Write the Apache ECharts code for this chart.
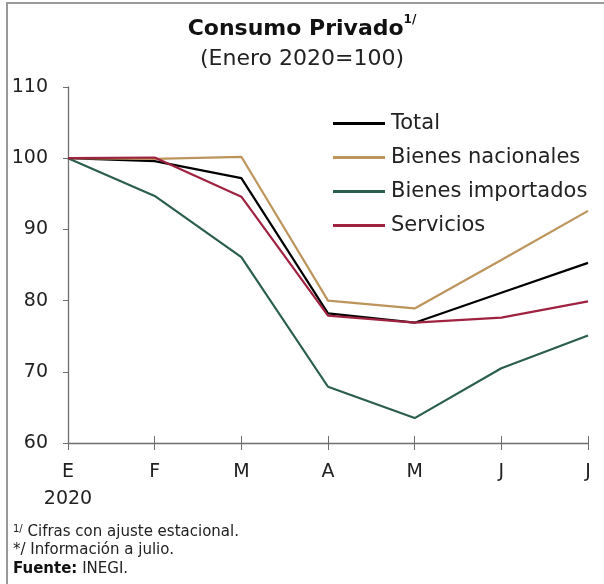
<!DOCTYPE html>
<html>
<head>
<meta charset="utf-8">
<title>Consumo Privado</title>
<script src="https://cdn.jsdelivr.net/npm/echarts@6/dist/echarts.min.js"></script>
<style>
body { margin: 0; width: 604px; height: 584px; background: #fff; }
#frame {
	position: absolute; left: 6px; top: 2px; width: 598px; height: 582px;
	border-left: 2px solid #9a9a9a; border-top: 2px solid #9a9a9a;
}
#chart { position: absolute; left: 0; top: 0; width: 604px; height: 584px; }
</style>
</head>
<body>
<div id="frame"></div>
<div id="chart"></div>
<script type="text/javascript">
// meses
var meses = ['E', 'F', 'M', 'A', 'M', 'J', 'J'];
// series (Enero 2020 = 100)
var total = [100, 99.6, 97.2, 78.2, 76.9, 81.1, 85.3];
var nacionales = [100, 99.9, 100.2, 80.0, 78.9, 85.7, 92.6];
var importados = [100, 94.7, 86.1, 67.9, 63.5, 70.5, 75.1];
var servicios = [100, 100.1, 94.6, 77.9, 76.9, 77.6, 79.9];

var fuente = '"DejaVu Sans", "Noto Sans", sans-serif';
var axisColor = '#6e6e6e';

var chart = echarts.init(document.getElementById('chart'));

function linea(nombre, datos, color) {
	return {
		name: nombre,
		type: 'line',
		data: datos,
		symbol: 'none',
		lineStyle: { color: color, width: 2.2 },
		itemStyle: { color: color },
		z: 3
	};
}

var option = {
	animation: false,
	textStyle: { fontFamily: fuente },
	title: {
		text: '{b|Consumo Privado}{s|1/}\n{n|(Enero 2020=100)}',
		left: 'center',
		top: 9,
		textStyle: {
			rich: {
				b: { fontFamily: fuente, fontSize: 22, fontWeight: 'bold', color: '#111', lineHeight: 30 },
				s: { fontFamily: fuente, fontSize: 12, fontWeight: 'bold', color: '#111', verticalAlign: 'top', lineHeight: 30, padding: [0, 0, 12, 0] },
				n: { fontFamily: fuente, fontSize: 22, fontWeight: 'normal', color: '#222', lineHeight: 30 }
			}
		}
	},
	legend: {
		orient: 'vertical',
		left: 333,
		top: 113,
		padding: 0,
		itemWidth: 52,
		itemHeight: 14,
		itemGap: 13,
		icon: 'path://M0,6 L52,6 L52,9 L0,9 Z',
		textStyle: { fontFamily: fuente, fontSize: 21, color: '#222', padding: [0, 0, 0, 1] },
		data: ['Total', 'Bienes nacionales', 'Bienes importados', 'Servicios']
	},
	grid: { left: 68, right: 16, top: 87, bottom: 141 },
	xAxis: [{
		type: 'category',
		data: meses,
		boundaryGap: false,
		axisLine: { lineStyle: { color: axisColor, width: 1.3 } },
		axisTick: { length: 7, lineStyle: { color: axisColor } },
		axisLabel: {
			color: '#222', fontSize: 19, margin: 16, lineHeight: 27,
			formatter: function (v, i) { return i === 0 ? v + '\n2020' : v; }
		},
		splitLine: { show: false }
	}, {
		type: 'category',
		data: meses,
		boundaryGap: false,
		position: 'bottom',
		axisLine: { show: false },
		axisTick: { inside: true, length: 7, lineStyle: { color: axisColor } },
		axisLabel: { show: false }
	}],
	yAxis: [{
		type: 'value',
		min: 60,
		max: 110,
		interval: 10,
		axisLine: { show: true, lineStyle: { color: axisColor, width: 1.3 } },
		axisTick: { show: true, length: 5, lineStyle: { color: axisColor } },
		axisLabel: { color: '#222', fontSize: 19, margin: 20 },
		splitLine: { show: false }
	}],
	series: [
		linea('Total', total, '#000000'),
		linea('Bienes nacionales', nacionales, '#BC955C'),
		linea('Bienes importados', importados, '#2B5E4C'),
		linea('Servicios', servicios, '#9F2241')
	],
	graphic: [{
		type: 'text', left: 13, top: 524,
		style: {
			text: '{s|1/} Cifras con ajuste estacional.',
			rich: { s: { fontSize: 10, verticalAlign: 'top', padding: [0, 0, 6, 0], fill: '#222', fontFamily: fuente } },
			fontSize: 15, fill: '#222', fontFamily: fuente
		}
	}, {
		type: 'text', left: 13, top: 543,
		style: { text: '*/ Información a julio.', fontSize: 15, fill: '#222', fontFamily: fuente }
	}, {
		type: 'text', left: 13, top: 562,
		style: {
			text: '{b|Fuente:} INEGI.',
			rich: { b: { fontWeight: 'bold', fontSize: 15, fill: '#111', fontFamily: fuente } },
			fontSize: 15, fill: '#222', fontFamily: fuente
		}
	}]
};

chart.setOption(option);
</script>
</body>
</html>
